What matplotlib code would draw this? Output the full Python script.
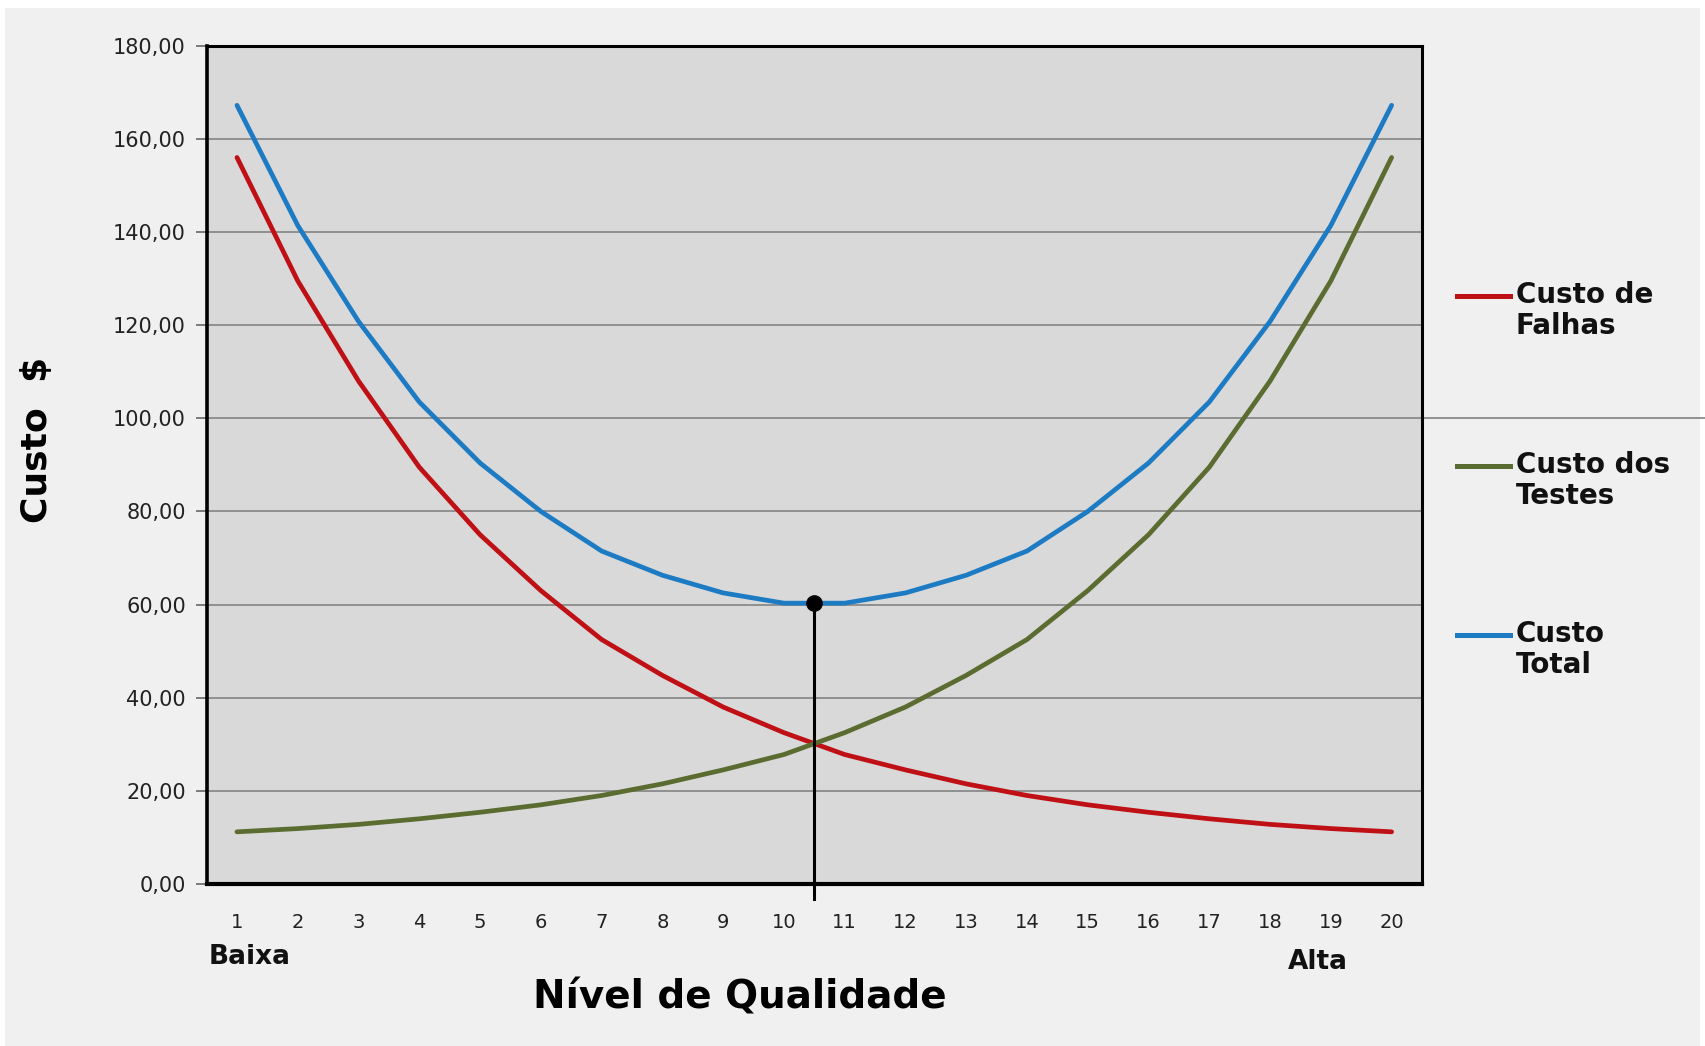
#!/usr/bin/env python3

# curva de custo da qualidade: custo de falhas x custo dos testes

import matplotlib as mpl
from matplotlib import pyplot as plt
from matplotlib.lines import Line2D
from matplotlib.patches import Rectangle
import numpy as np

mpl.rcParams["font.family"] = ["DejaVu Sans"]

# niveis de qualidade 1..20
niveis = list(range(1, 21))

# valores
custo_falhas = [156.0, 129.5, 108.0, 89.5, 75.0, 63.0, 52.5, 44.8, 38.0, 32.5,
                27.8, 24.5, 21.5, 19.0, 17.0, 15.4, 14.0, 12.8, 11.9, 11.2]
custo_testes = [11.2, 11.9, 12.8, 14.0, 15.4, 17.0, 19.0, 21.5, 24.5, 27.8,
                32.5, 38.0, 44.8, 52.5, 63.0, 75.0, 89.5, 108.0, 129.5, 156.0]
custo_total = [167.2, 141.4, 120.8, 103.5, 90.4, 80.0, 71.5, 66.3, 62.5, 60.3,
               60.3, 62.5, 66.3, 71.5, 80.0, 90.4, 103.5, 120.8, 141.4, 167.2]

series_labels = ["Custo de\nFalhas", "Custo dos\nTestes", "Custo\nTotal"]
series_colors = ["#bf1016", "#5a6c30", "#1c7bc3"]

yticks = np.arange(0, 181, 20)

W, H = 1705, 1046
fig = plt.figure(figsize=(W / 100, H / 100), dpi=100, facecolor="white")
fig.add_artist(Rectangle((0.003, 0.0), 0.994, 0.992, transform=fig.transFigure,
                         facecolor="#f0f0f0", edgecolor="none", zorder=-10))

ax = fig.add_axes([206.6 / W, 1 - 884 / H, (1422 - 206.6) / W, (884 - 45.7) / H])
ax.set_facecolor("#d9d9d9")

for y in yticks[1:-1]:
    ax.axhline(y, color="#8a8a8a", lw=1.3, zorder=1)
# a linha dos 100 passa da borda na figura original
ax.axhline(100, xmin=1.0, xmax=1.25, color="#8a8a8a", lw=1.3, clip_on=False, zorder=1)

for vals, col in zip([custo_falhas, custo_testes, custo_total], series_colors):
    ax.plot(niveis, vals, color=col, lw=3.4, zorder=3, solid_capstyle="round",
            solid_joinstyle="round")

# ponto otimo: minimo do custo total
tot = np.array(custo_total)
idx = np.where(np.isclose(tot, tot.min()))[0]
x_opt = np.mean(np.array(niveis)[idx])
y_opt = np.interp(x_opt, niveis, custo_total)
ax.plot([x_opt, x_opt], [-3.3, y_opt], color="black", lw=2.2, clip_on=False, zorder=4)
ax.plot([x_opt], [y_opt], "o", color="black", ms=11, zorder=5)

ax.set_xlim(0.5, 20.5)
ax.set_ylim(0, 180)
ax.set_xticks(niveis)
ax.set_xticklabels([str(n) for n in niveis])
ax.set_yticks(yticks)
ax.set_yticklabels(["{:.2f}".format(v).replace(".", ",") for v in yticks])
ax.tick_params(axis="x", length=0, pad=21, labelsize=14, colors="#222222")
ax.tick_params(axis="y", length=8, width=1.2, pad=7, labelsize=15, colors="#222222")
ax.tick_params(axis="y", color="#666666")

for s in ax.spines.values():
    s.set_color("black")
    s.set_linewidth(2.2)
ax.spines["left"].set_linewidth(2.6)
ax.spines["bottom"].set_linewidth(3)

# textos dos extremos e titulos dos eixos
fig.text(209 / W, 1 - 957 / H, "Baixa", fontsize=19, fontweight="bold", ha="left",
         va="center", color="#111111")
fig.text(1288 / W, 1 - 962 / H, "Alta", fontsize=19, fontweight="bold", ha="left",
         va="center", color="#111111")
fig.text(740 / W, 1 - 998 / H, "Nível de Qualidade", fontsize=28, fontweight="bold",
         ha="center", va="center")
fig.text(37 / W, 1 - 440 / H, "Custo  $", fontsize=26, fontweight="bold",
         ha="center", va="center", rotation=90)

# legenda manual (linha alinhada com a primeira linha do texto)
leg_y = [296, 466, 635]
for lab, col, yy in zip(series_labels, series_colors, leg_y):
    fig.add_artist(Line2D([1457 / W, 1510 / W], [1 - yy / H, 1 - yy / H], color=col, lw=3.6,
                          transform=fig.transFigure))
    fig.text(1516 / W, 1 - (yy - 15) / H, lab, fontsize=20, fontweight="bold", ha="left",
             va="top", linespacing=1.12, color="#111111")

fig.savefig("out.png", dpi=100, facecolor=fig.get_facecolor())
